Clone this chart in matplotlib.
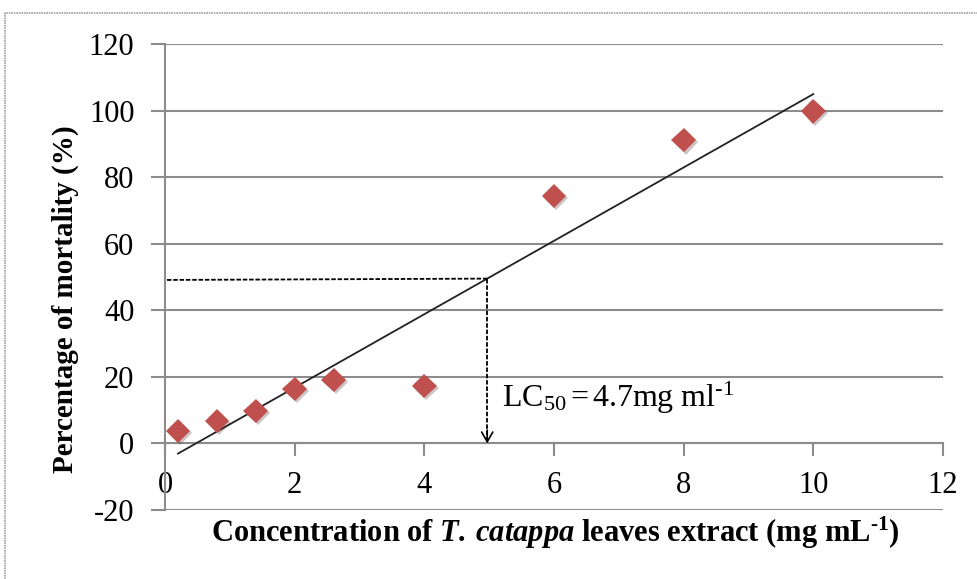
import numpy as np
import matplotlib
matplotlib.use('Agg')
from matplotlib import pyplot as plt
from matplotlib.patches import Rectangle
import matplotlib.patheffects as pe

plt.rcParams['font.family'] = 'Liberation Serif'
plt.rcParams['axes.unicode_minus'] = False
plt.rcParams['mathtext.fontset'] = 'custom'
plt.rcParams['mathtext.rm'] = 'Liberation Serif'
plt.rcParams['mathtext.it'] = 'Liberation Serif:italic'
plt.rcParams['mathtext.bf'] = 'Liberation Serif:bold'
plt.rcParams['mathtext.bfit'] = 'Liberation Serif:italic:bold'

# data
conc = [0.2, 0.8, 1.4, 2.0, 2.6, 4.0, 6.0, 8.0, 10.0]
mortality = [3.8, 6.8, 9.8, 16.4, 19.1, 17.3, 74.3, 91.1, 99.8]
lc50_x = 4.97
x_ticks = [0, 2, 4, 6, 8, 10, 12]
y_ticks = [-20, 0, 20, 40, 60, 80, 100, 120]

grey = '#8c8c8c'

fig = plt.figure(figsize=(9.78, 5.79), dpi=100)
ax = fig.add_axes([165/978, 1-510/579, (943-165)/978, (510-44)/579])

# chart frame
fig.patches.append(Rectangle((5/978, -0.1), 1.2, 1.1 - 13/579, transform=fig.transFigure,
                             fill=False, edgecolor='#a0a0a0', lw=1.2, ls=(0, (1, 0.5))))

ax.set_xlim(0, 12)
ax.set_ylim(-20, 120)
ax.set_xticks(x_ticks)
ax.set_yticks(y_ticks)
ax.yaxis.grid(True, color=grey, lw=1.5)
ax.set_axisbelow(True)
for s in ['top', 'right']:
    ax.spines[s].set_visible(False)
ax.spines['bottom'].set_position(('data', 0))
ax.spines['bottom'].set_color(grey)
ax.spines['bottom'].set_linewidth(1.5)
ax.spines['left'].set_color(grey)
ax.spines['left'].set_linewidth(1.5)
ax.tick_params(axis='y', length=10, width=1.5, color=grey, pad=12, labelsize=22)
ax.tick_params(axis='x', length=9, width=1.5, color=grey, pad=11, labelsize=22)

# linear trendline
slope, icpt = np.polyfit(conc, mortality, 1)
xt = np.array([conc[0], conc[-1]])
ax.plot(xt, slope*xt + icpt, color='#222222', lw=1.3, zorder=3)

ax.plot(conc, mortality, 'D', color='#C0504D', markersize=12.5, markeredgewidth=0, zorder=4,
        path_effects=[pe.SimplePatchShadow(offset=(1.5, -1.5), alpha=0.25), pe.Normal()])

# LC50 guide lines
y50 = slope*lc50_x + icpt
ax.plot([0.03, lc50_x], [y50 - 0.4, y50], color='k', lw=1.3, ls=(0, (2.5, 1)), zorder=3)
ax.plot([lc50_x, lc50_x], [y50, 1], color='k', lw=1.3, ls=(0, (2.5, 1)), zorder=3)
ax.annotate('', xy=(lc50_x, 0), xytext=(lc50_x, 4),
            arrowprops=dict(arrowstyle='->,head_length=0.7,head_width=0.4', lw=1.2, color='k',
                            shrinkA=0, shrinkB=0))
ax.text(5.2, 13.6, 'LC$_{50}$$\\,$=$\\,$4.7mg ml$^{\u2010 1}$', fontsize=23, va='center', ha='left')

fig.text(65/978, 1-299/579, 'Percentage of mortality (%)', rotation=90, ha='center', va='center',
         fontsize=21, fontweight='bold')
fig.text(555/978, 1-533/579,
         'Concentration of $\\mathbfit{T.\\:catappa}$ leaves extract (mg mL$^{\\mathbf{\u2010 1}}$)',
         ha='center', va='center', fontsize=22, fontweight='bold')

fig.savefig('out.png', dpi=100)
